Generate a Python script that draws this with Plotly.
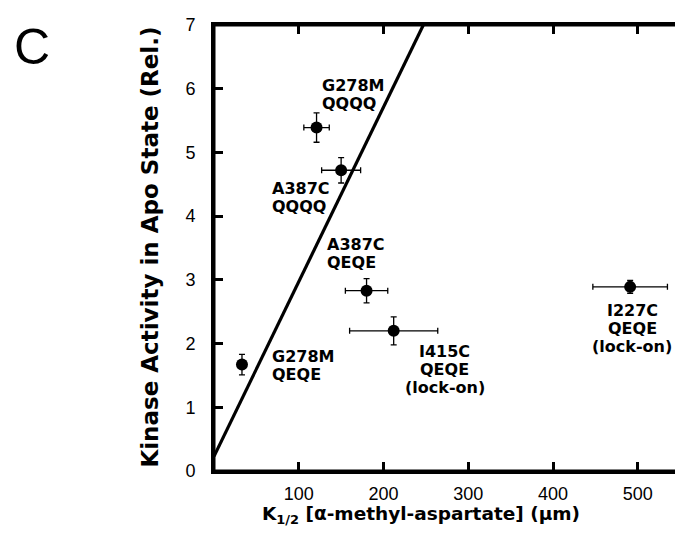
import plotly.graph_objects as go

# ---- data ----
k_half = [121, 150, 180, 212, 33, 491]          # K1/2 (uM)
k_half_err = [15, 23, 25, 52, 0, 44]
activity = [5.39, 4.72, 2.83, 2.20, 1.67, 2.89]  # kinase activity (rel.)
activity_err = [0.23, 0.20, 0.19, 0.22, 0.16, 0.10]

line_x = [0, 247]
line_y = [0.23, 7.0]

label_lines = [
    ["G278M", "QQQQ"],
    ["A387C", "QQQQ"],
    ["A387C", "QEQE"],
    ["G278M", "QEQE"],
    ["I415C", "QEQE", "(lock-on)"],
    ["I227C", "QEQE", "(lock-on)"],
]
label_x = [125, 65.6, 131, 65.6, 272, 493.5]
label_y = [6.05, 4.44, 3.55, 1.80, 1.875, 2.52]
label_anchor = ["left", "left", "left", "left", "center", "center"]

x_tick_vals = [100, 200, 300, 400, 500]
y_tick_vals = [0, 1, 2, 3, 4, 5, 6, 7]

BOLD = "DejaVu Sans"
REG = "Liberation Sans"

fig = go.Figure()
fig.add_trace(go.Scatter(x=line_x, y=line_y, mode="lines",
                         line=dict(color="black", width=3.2), hoverinfo="skip",
                         showlegend=False, cliponaxis=True))
fig.add_trace(go.Scatter(
    x=k_half, y=activity, mode="markers",
    marker=dict(color="black", size=12),
    error_x=dict(type="data", array=k_half_err, color="black", thickness=1.3, width=3),
    error_y=dict(type="data", array=activity_err, color="black", thickness=1.3, width=3),
    showlegend=False))

for lines, lx, ly, anc in zip(label_lines, label_x, label_y, label_anchor):
    for i, t in enumerate(lines):
        fig.add_annotation(x=lx, y=ly, xref="x", yref="y", text="<b>%s</b>" % t,
                           showarrow=False, xanchor=anc, yanchor="middle",
                           yshift=-18 * i,
                           font=dict(family=BOLD, size=16, color="black"))

# axis titles and panel letter
fig.add_annotation(x=0.4426, y=-0.098, xref="paper", yref="paper",
                   text="<b>K<sub>1/2</sub> [α-methyl-aspartate] (µm)</b>",
                   showarrow=False, xanchor="center", yanchor="middle",
                   font=dict(family=BOLD, size=18.5, color="black"))
fig.add_annotation(x=-0.136, y=0.502, xref="paper", yref="paper",
                   text="<b>Kinase Activity in Apo State (Rel.)</b>", textangle=-90,
                   showarrow=False, xanchor="center", yanchor="middle",
                   font=dict(family=BOLD, size=23, color="black"))
fig.add_annotation(x=-0.389, y=0.951, xref="paper", yref="paper", text="C",
                   showarrow=False, xanchor="center", yanchor="middle",
                   font=dict(family=REG, size=50, color="black"))

# plot frame
fig.add_shape(type="rect", xref="paper", yref="paper", x0=0, y0=0, x1=1, y1=1,
              line=dict(color="black", width=3), layer="above")

fig.update_xaxes(range=[0, 551], tickvals=x_tick_vals, ticks="inside", ticklen=9,
                 tickwidth=2.5, tickcolor="black", showline=True, linecolor="black",
                 linewidth=3, mirror="ticks", showgrid=False, zeroline=False,
                 tickfont=dict(family=REG, size=18, color="black"), ticklabelstandoff=4)
fig.update_yaxes(range=[0, 7], tickvals=y_tick_vals, ticks="inside", ticklen=9,
                 tickwidth=2.5, tickcolor="black", showline=True, linecolor="black",
                 linewidth=3, mirror=True, showgrid=False, zeroline=False,
                 tickfont=dict(family=REG, size=18, color="black"), ticklabelstandoff=12)

fig.update_layout(width=683, height=539, margin=dict(l=206, r=7, t=16, b=76),
                  plot_bgcolor="white", paper_bgcolor="white")

fig.write_html("out.html")
